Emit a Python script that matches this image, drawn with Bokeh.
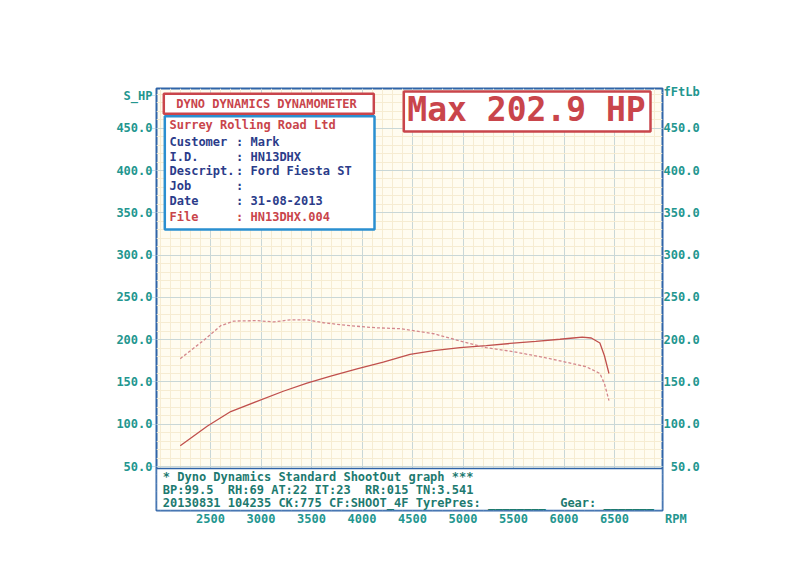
from bokeh.plotting import figure
from bokeh.models import Range1d, LinearAxis, FixedTicker, Label, BoxAnnotation
from bokeh.embed import file_html
from bokeh.resources import INLINE

# ---------------- data ----------------
rpm_power = [2200, 2470, 2700, 2960, 3220, 3455, 3690, 3950, 4210, 4475, 4710,
             4970, 5230, 5465, 5720, 5960, 6090, 6180, 6270, 6355, 6400, 6445]
power_hp = [74.5, 98, 115, 127, 139, 148.5, 157, 165.5, 173.5, 182.5, 187,
            190.5, 193, 195.5, 198, 200.5, 202, 202.9, 202, 196, 181, 160]

rpm_torque = [2200, 2430, 2600, 2730, 2960, 3130, 3290, 3455, 3620, 3880, 4150,
              4380, 4710, 4970, 5230, 5465, 5760, 5960, 6220, 6355, 6400, 6445]
torque_ftlb = [177.5, 199, 216.5, 222, 222.5, 221, 223.5, 223.5, 220, 216.5, 214,
               213, 207, 198.5, 190.5, 186.5, 180, 175, 168, 160, 148, 128]

x_ticks = [2500, 3000, 3500, 4000, 4500, 5000, 5500, 6000, 6500]
x_minor = list(range(2000, 7001, 100))
y_ticks = [50, 100, 150, 200, 250, 300, 350, 400, 450]
y_minor = list(range(0, 501, 10))

title_text = "DYNO DYNAMICS DYNAMOMETER"
max_text = "Max 202.9 HP"
company = "Surrey Rolling Road Ltd"
info_keys = ["Customer", "I.D.", "Descript.", "Job", "Date", "File"]
info_vals = ["Mark", "HN13DHX", "Ford Fiesta ST", "", "31-08-2013", "HN13DHX.004"]
footer_lines = [
    "* Dyno Dynamics Standard ShootOut graph ***",
    "BP:99.5  RH:69 AT:22 IT:23  RR:015 TN:3.541",
    "20130831 104235 CK:775 CF:SHOOT_4F TyrePres: ________  Gear: _______",
]
left_caption = "S_HP"
right_caption = "fFtLb"
x_caption = "RPM"

# ---------------- layout (pixel positions in the picture) ----------------
W, H = 784, 570
FL, FR, FT, FB = 156, 662, 88, 510
X0, X1 = 1965, 6975
Y0, Y1 = -2, 497


def dx(px):
    return X0 + (px - FL) * (X1 - X0) / (FR - FL)


def dy(py):
    return Y0 + (FB - py) * (Y1 - Y0) / (FB - FT)


FONT = "DejaVu Sans Mono"
TEAL = "#23968f"
DTEAL = "#1d7a70"
NAVY = "#2b3c8a"
RED = "#c9454b"
FRAME = "#2f64a8"
NB = "\u00a0"

p = figure(width=W, height=H, x_range=Range1d(X0, X1), y_range=Range1d(Y0, Y1),
           output_backend="svg", toolbar_location=None,
           min_border_left=FL, min_border_right=W - FR,
           min_border_top=FT, min_border_bottom=H - FB)
p.background_fill_color = "#fffcf0"
p.border_fill_color = "white"
p.outline_line_color = FRAME
p.outline_line_width = 2

xt = FixedTicker(ticks=x_ticks, minor_ticks=x_minor)
yt = FixedTicker(ticks=y_ticks, minor_ticks=y_minor)

# caption positions carried as extra axis ticks (labels only)
ly_cap = dy(95)
ry_cap = dy(91.5)
lt = FixedTicker(ticks=y_ticks + [ly_cap])
rt = FixedTicker(ticks=y_ticks + [ry_cap])

p.xaxis.ticker = xt
p.yaxis.ticker = lt
p.xgrid.ticker = xt
p.ygrid.ticker = yt

for g in (p.xgrid, p.ygrid):
    g.grid_line_color = "#9cc2dc"
    g.grid_line_dash = "1 1"
    g.grid_line_width = 1
    g.minor_grid_line_color = "#f6ecd2"
    g.minor_grid_line_width = 1

left_over = {t: f"{t:.1f}" for t in y_ticks}
left_over[ly_cap] = left_caption
right_over = {t: f"{t:.1f}".rjust(5, NB) for t in y_ticks}
right_over[ry_cap] = right_caption

# last x tick carries the RPM caption, padded so the number stays centred
x_over = {t: str(t) for t in x_ticks}
x_over[x_ticks[-1]] = NB * 8 + str(x_ticks[-1]) + NB * 5 + x_caption

p.yaxis[0].major_label_overrides = left_over
p.xaxis[0].major_label_overrides = x_over
raxis = LinearAxis(ticker=rt, major_label_overrides=right_over)
p.add_layout(raxis, "right")

for ax in (p.xaxis[0], p.yaxis[0], raxis):
    ax.axis_line_color = None
    ax.minor_tick_line_color = None
    ax.major_tick_in = 0
    ax.major_tick_line_color = "#9cc2dc"
    ax.major_tick_line_dash = "1 1"
    ax.major_label_text_font = FONT
    ax.major_label_text_font_style = "bold"
    ax.major_label_text_font_size = "12px"
    ax.major_label_text_color = TEAL

p.yaxis[0].major_tick_out = 4
p.yaxis[0].major_label_standoff = 0
raxis.major_tick_out = 1
raxis.major_label_standoff = 0
p.xaxis[0].major_tick_out = 0
p.xaxis[0].major_label_standoff = -3

# curves
p.line(rpm_power, power_hp, line_color="#c0504d", line_width=1.3)
p.line(rpm_torque, torque_ftlb, line_color="#d4878c", line_width=1.3, line_dash="3 2")

# footer box
p.add_layout(BoxAnnotation(top=dy(468), fill_color="white", fill_alpha=1,
                           line_color=FRAME, line_width=1.5, line_alpha=1))
# title box
p.add_layout(BoxAnnotation(left=dx(163.3), right=dx(373.3), top=dy(93.3), bottom=dy(113.3),
                           fill_color="white", fill_alpha=1, line_color=RED,
                           line_width=2.5, line_alpha=1))
# info box
p.add_layout(BoxAnnotation(left=dx(164.3), right=dx(374), top=dy(115.7), bottom=dy(229),
                           fill_color="white", fill_alpha=1, line_color="#2a8fd0",
                           line_width=2.5, line_alpha=1))
# max box
p.add_layout(BoxAnnotation(left=dx(403.3), right=dx(650), top=dy(91), bottom=dy(131),
                           fill_color="white", fill_alpha=1, line_color=RED,
                           line_width=2.5, line_alpha=1))


def lab(x, y, text, color, size="12px", align="left"):
    p.add_layout(Label(x=dx(x), y=dy(y), text=text, text_font=FONT,
                       text_font_style="bold", text_font_size=size,
                       text_color=color, text_align=align, text_baseline="middle"))


lab(266, 103.5, title_text, RED, align="center")
lab(526, 109, max_text, RED, size="33px", align="center")

lab(169, 124.5, company, RED)
info_y = [141.7, 156, 170.7, 185.7, 200, 216.7]
for k, v, yy in zip(info_keys, info_vals, info_y):
    c = RED if k == "File" else NAVY
    lab(169, yy, k, c)
    lab(235.5, yy, ":", c)
    if v:
        lab(250, yy, v, c)

for line, yy in zip(footer_lines, [476.8, 489.4, 502.2]):
    lab(162.3, yy, line.replace(" ", NB), DTEAL)

open("out.html", "w").write(file_html(p, INLINE))
